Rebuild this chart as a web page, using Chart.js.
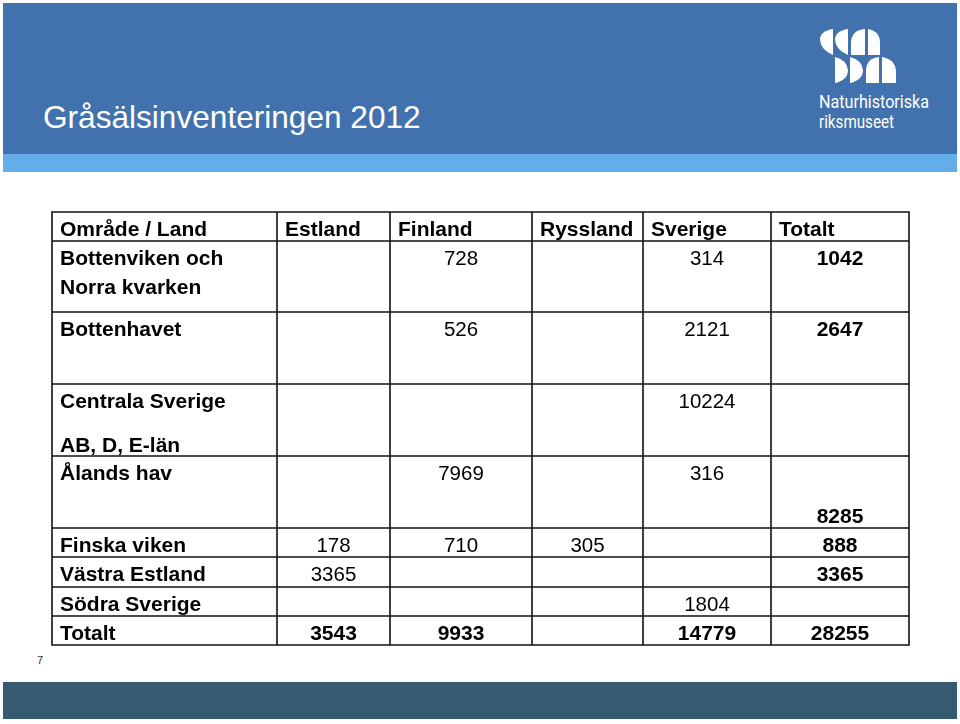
<!DOCTYPE html>
<html>
<head>
<meta charset="utf-8">
<script src="https://cdn.jsdelivr.net/npm/chart.js@4/dist/chart.umd.min.js"></script>
<style>
  body { margin: 0; background: #fff; }
  #slide { position: relative; width: 960px; height: 724px; overflow: hidden; font-family: 'Liberation Sans', Arial, sans-serif; }
  .band { position: absolute; }
  #title { position: absolute; left: 43px; top: 101px; font-size: 31.6px; line-height: 32px; color: #fff; white-space: nowrap; }
  .logo-text { position: absolute; left: 819px; font-family: Roboto, 'Noto Sans', sans-serif; font-size: 17.5px; line-height: 17.5px; color: #fff; white-space: nowrap; transform-origin: left top; }
  #pagenr { position: absolute; left: 37px; top: 655px; font-size: 11px; line-height: 11px; color: #333; }
  #table { position: absolute; left: 0; top: 0; }
</style>
</head>
<body>
<div id="slide">
  <div class="band" style="left:3px; top:3px; width:954px; height:151px; background:#4272ad;"></div>
  <div class="band" style="left:3px; top:154px; width:954px; height:18px; background:#63aee9;"></div>
  <div class="band" style="left:3px; top:682px; width:954px; height:37px; background:#365a6f;"></div>
  <div id="title">Gråsälsinventeringen 2012</div>
  <svg style="position:absolute; left:0; top:0;" width="960" height="140" viewBox="0 0 960 140">
    <g fill="#fff">
      <path d="M833,29 L833,55 Q821,50 820,40 Q820,31 833,29 Z"/>
      <path d="M848,29 L848,55 Q836,50 835,40 Q835,31 848,29 Z"/>
      <path d="M851,55 L851,42 Q852,30 865,29 L865,55 Z"/>
      <path d="M868,29 Q880,31 880,43 L880,55 L868,55 Z"/>
      <path d="M835,57 Q847,60 848,70 Q848,80 835,83 Z"/>
      <path d="M850,57 Q862,60 863,70 Q863,80 850,83 Z"/>
      <path d="M866,83 L866,70 Q867,58 879,57 L879,83 Z"/>
      <path d="M882,57 Q895,59 896,71 L896,83 L882,83 Z"/>
    </g>
  </svg>
  <div class="logo-text fit" data-w="110" style="top:94px;">Naturhistoriska</div>
  <div class="logo-text fit" data-w="75" style="top:114px;">riksmuseet</div>
  <div id="pagenr">7</div>
  <canvas id="table" width="960" height="724"></canvas>
</div>
<script>
// table contents
const columnLabels = ['Område / Land', 'Estland', 'Finland', 'Ryssland', 'Sverige', 'Totalt'];
const areaLabels = [
  ['Bottenviken och', 'Norra kvarken'],
  ['Bottenhavet'],
  ['Centrala Sverige', 'AB, D, E-län'],
  ['Ålands hav'],
  ['Finska viken'],
  ['Västra Estland'],
  ['Södra Sverige'],
  ['Totalt']
];
const estland  = [null, null, null, null, 178, 3365, null, 3543];
const finland  = [728, 526, null, 7969, 710, null, null, 9933];
const ryssland = [null, null, null, null, 305, null, null, null];
const sverige  = [314, 2121, 10224, 316, null, null, 1804, 14779];
const totalt   = [1042, 2647, null, 8285, 888, 3365, null, 28255];

// layout of the grid, in table units (pixels from the table's top left corner)
const colEdges = [0, 225, 338, 480, 591, 719, 857];
const rowEdges = [0, 29, 100, 172, 244, 316, 345, 375, 404, 433];
const labelLineGap = [29, 0, 44, 0, 0, 0, 0, 0];
const bottomCells = ['3-4'];   // row-column drawn at the bottom of its cell

const series = [estland, finland, ryssland, sverige, totalt];
const boldFont = "bold 21px 'Liberation Sans', Arial, sans-serif";
const plainFont = "20.5px 'Liberation Sans', Arial, sans-serif";

document.querySelectorAll('.fit').forEach(el => {
  const w = el.getBoundingClientRect().width;
  el.style.transform = 'scaleX(' + (parseFloat(el.dataset.w) / w) + ')';
});

const datasets = [];
datasets.push({
  kind: 'header',
  data: columnLabels.map((t, c) => ({ x: colEdges[c] + 8, y: rowEdges[0], text: [t] }))
});
datasets.push({
  kind: 'label',
  data: areaLabels.map((t, r) => ({ x: colEdges[0] + 8, y: rowEdges[r + 1], text: t, row: r }))
});
series.forEach((values, s) => {
  const c = s + 1;
  const pts = [];
  values.forEach((v, r) => {
    if (v === null) return;
    pts.push({ x: (colEdges[c] + colEdges[c + 1]) / 2, y: rowEdges[r + 1], text: [String(v)], row: r, col: s });
  });
  datasets.push({ kind: 'value', data: pts });
});
datasets.forEach(d => { d.pointRadius = 0; d.pointHoverRadius = 0; d.clip = false; });

const tablePlugin = {
  id: 'tablePlugin',
  afterDatasetsDraw(chart) {
    const ctx = chart.ctx;
    const x = chart.scales.x, y = chart.scales.y;
    const left = x.getPixelForValue(colEdges[0]), right = x.getPixelForValue(colEdges[colEdges.length - 1]);
    const top = y.getPixelForValue(rowEdges[0]), bottom = y.getPixelForValue(rowEdges[rowEdges.length - 1]);
    ctx.save();
    ctx.strokeStyle = '#111';
    ctx.lineWidth = 1.6;
    ctx.beginPath();
    colEdges.forEach(e => { const px = x.getPixelForValue(e); ctx.moveTo(px, top); ctx.lineTo(px, bottom); });
    rowEdges.forEach(e => { const py = y.getPixelForValue(e); ctx.moveTo(left - 0.8, py); ctx.lineTo(right + 0.8, py); });
    ctx.stroke();

    ctx.fillStyle = '#000';
    ctx.textBaseline = 'alphabetic';
    chart.data.datasets.forEach((ds, i) => {
      const meta = chart.getDatasetMeta(i);
      meta.data.forEach((el, j) => {
        const p = ds.data[j];
        let bold = ds.kind !== 'value' || p.col === 4 || p.row === areaLabels.length - 1;
        ctx.font = bold ? boldFont : plainFont;
        ctx.textAlign = ds.kind === 'value' ? 'center' : 'left';
        let base = el.y + 24;
        if (ds.kind === 'value' && bottomCells.includes(p.row + '-' + p.col)) {
          base = y.getPixelForValue(rowEdges[p.row + 2]) - 5;
        }
        p.text.forEach((line, k) => {
          ctx.fillText(line, el.x, base + k * (ds.kind === 'label' ? labelLineGap[p.row] : 0));
        });
      });
    });
    ctx.restore();
  }
};

new Chart(document.getElementById('table'), {
  type: 'scatter',
  data: { datasets: datasets },
  options: {
    responsive: false,
    animation: false,
    events: [],
    layout: { padding: { left: 52, top: 212, right: 51, bottom: 79 } },
    plugins: { legend: { display: false }, tooltip: { enabled: false } },
    scales: {
      x: { type: 'linear', min: 0, max: 857, display: false },
      y: { type: 'linear', min: 0, max: 433, reverse: true, display: false }
    }
  },
  plugins: [tablePlugin]
});
</script>
</body>
</html>
